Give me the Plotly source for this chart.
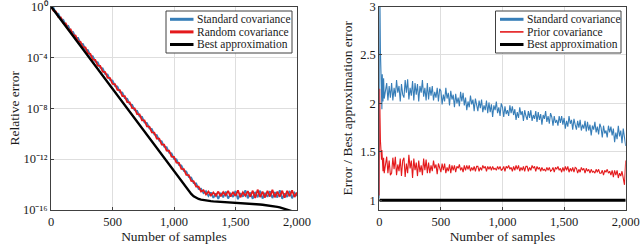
import plotly.graph_objects as go

# ---------------- data ----------------
# Left panel: samples and log10 of relative error
samples_left = list(range(0, 2001, 20))

std_cov_log10 = [
    0.00, -0.10, -0.53, -0.58, -1.00, -1.05, -1.48, -1.52, -1.96, -2.00,
    -2.44, -2.47, -2.91, -2.95, -3.39, -3.43, -3.87, -3.91, -4.34, -4.38,
    -4.82, -4.86, -5.30, -5.34, -5.78, -5.82, -6.25, -6.29, -6.73, -6.77,
    -7.21, -7.25, -7.69, -7.72, -8.16, -8.20, -8.64, -8.68, -9.12, -9.16,
    -9.59, -9.63, -10.07, -10.11, -10.55, -10.59, -11.03, -11.06, -11.50, -11.54,
    -11.98, -12.02, -12.46, -12.50, -12.93, -12.97, -13.41, -13.45, -13.89, -13.91,
    -14.35, -14.32, -14.68, -14.52, -14.90, -14.62,
    -15.05, -14.70, -15.12, -14.65, -15.00, -14.55, -15.10, -14.72, -14.98, -14.50,
    -15.15, -14.68, -14.95, -14.45, -15.08, -14.62, -15.12, -14.58, -15.00, -14.48,
    -15.10, -14.66, -14.96, -14.52, -15.06, -14.60, -15.02, -14.44, -15.12, -14.70,
    -14.98, -14.50, -15.08, -14.64, -14.90,
]

rand_cov_log10 = [
    0.00, -0.34, -0.40, -0.84, -0.86, -1.30, -1.33, -1.79, -1.80, -2.26,
    -2.28, -2.74, -2.77, -3.21, -3.22, -3.69, -3.72, -4.18, -4.19, -4.65,
    -4.66, -5.12, -5.15, -5.60, -5.62, -6.08, -6.10, -6.56, -6.57, -7.04,
    -7.05, -7.52, -7.53, -7.99, -8.00, -8.46, -8.48, -8.95, -8.96, -9.42,
    -9.44, -9.90, -9.91, -10.38, -10.39, -10.86, -10.86, -11.33, -11.34, -11.81,
    -11.82, -12.28, -12.30, -12.77, -12.78, -13.24, -13.25, -13.72, -13.74, -14.16,
    -14.17, -14.54, -14.44, -14.78, -14.55, -14.86,
    -14.62, -14.88, -14.55, -14.92, -14.60, -14.85, -14.50, -14.95, -14.58, -14.90,
    -14.45, -15.00, -14.60, -14.88, -14.52, -14.96, -14.48, -15.05, -14.40, -14.98,
    -14.55, -15.02, -14.50, -14.94, -14.42, -15.00, -14.55, -14.96, -14.48, -15.04,
    -14.50, -14.92, -14.45, -14.98, -14.62,
]

best_log10 = [
    0.00, -0.26, -0.52, -0.78, -1.04, -1.30, -1.56, -1.82, -2.08, -2.34,
    -2.60, -2.86, -3.12, -3.38, -3.64, -3.90, -4.16, -4.42, -4.68, -4.94,
    -5.20, -5.46, -5.72, -5.98, -6.24, -6.50, -6.76, -7.02, -7.28, -7.54,
    -7.80, -8.06, -8.32, -8.58, -8.84, -9.10, -9.36, -9.62, -9.88, -10.14,
    -10.40, -10.66, -10.92, -11.18, -11.44, -11.70, -11.96, -12.22, -12.48, -12.74,
    -13.00, -13.26, -13.52, -13.78, -14.04, -14.28, -14.52, -14.74, -14.92, -15.05,
    -15.13, -15.18, -15.22, -15.25, -15.28, -15.30, -15.32, -15.33, -15.34, -15.36,
    -15.37, -15.38, -15.39, -15.40, -15.42, -15.43, -15.44, -15.45, -15.46, -15.48,
    -15.49, -15.50, -15.52, -15.53, -15.55, -15.57, -15.59, -15.61, -15.63, -15.65,
    -15.68, -15.71, -15.75, -15.79, -15.84, -15.89, -15.95, -16.02, -16.10, -16.20,
    -16.30,
]

# Right panel: samples and error ratio
samples_right = [0, 3, 6, 9, 12, 15, 18, 21, 24, 27, 30, 35, 40] + list(range(60, 2001, 10))

std_ratio = [
    1.02, 3.30, 2.95, 2.55, 2.38, 2.30, 2.36, 1.94, 2.30, 2.22, 2.02, 2.26, 2.05,
    2.21, 2.03, 2.18, 2.06,
    2.21, 2.03, 2.16, 2.07, 2.24, 2.11, 2.18, 2.02, 2.20, 2.09,
    2.06, 2.24, 2.11, 2.25, 2.04, 2.16, 2.08, 2.23, 2.03, 2.21,
    2.09, 2.20, 2.02, 2.18, 2.11, 2.24, 2.07, 2.16, 2.03, 2.21,
    2.04, 2.17, 2.08, 2.18, 2.03, 2.12, 2.06, 2.16, 2.02, 2.15,
    2.13, 1.99, 2.09, 2.02, 2.16, 2.05, 2.11, 1.98, 2.13, 2.04,
    2.09, 1.96, 2.10, 2.00, 2.06, 1.97, 2.12, 2.02, 2.11, 1.98,
    2.06, 1.93, 2.02, 1.96, 2.08, 1.99, 2.04, 1.92, 2.05, 1.97,
    1.92, 2.03, 1.95, 2.04, 1.91, 1.98, 1.93, 2.03, 1.90, 2.01,
    1.91, 1.99, 1.86, 1.98, 1.93, 2.02, 1.90, 1.96, 1.87, 2.00,
    1.96, 1.86, 1.97, 1.89, 1.93, 1.87, 1.98, 1.90, 1.97, 1.88,
    1.94, 1.83, 1.91, 1.85, 1.96, 1.88, 1.92, 1.82, 1.93, 1.87,
    1.83, 1.92, 1.85, 1.93, 1.82, 1.88, 1.84, 1.92, 1.81, 1.91,
    1.83, 1.89, 1.78, 1.88, 1.84, 1.92, 1.81, 1.87, 1.79, 1.90,
    1.86, 1.77, 1.87, 1.80, 1.83, 1.77, 1.87, 1.80, 1.87, 1.78,
    1.85, 1.74, 1.82, 1.76, 1.87, 1.79, 1.83, 1.73, 1.84, 1.78,
    1.73, 1.82, 1.75, 1.83, 1.72, 1.78, 1.74, 1.82, 1.71, 1.81,
    1.72, 1.78, 1.67, 1.77, 1.73, 1.81, 1.70, 1.76, 1.68, 1.79,
    1.75, 1.65, 1.77, 1.69, 1.72, 1.65, 1.77, 1.70, 1.76, 1.67,
    1.74, 1.60, 1.70, 1.63, 1.77, 1.66, 1.72, 1.59, 1.74, 1.65,
    1.56,
]

prior_ratio = [
    1.05, 2.15, 1.85, 1.62, 1.50, 1.58, 1.42, 1.52, 1.36, 1.46, 1.30, 1.44, 1.28,
    1.45, 1.28, 1.41, 1.26,
    1.28, 1.44, 1.32, 1.45, 1.26, 1.37, 1.30, 1.43, 1.25, 1.41,
    1.44, 1.24, 1.38, 1.28, 1.47, 1.33, 1.41, 1.23, 1.43, 1.31,
    1.39, 1.25, 1.41, 1.29, 1.36, 1.26, 1.43, 1.31, 1.42, 1.28,
    1.39, 1.28, 1.36, 1.30, 1.41, 1.33, 1.37, 1.27, 1.38, 1.32,
    1.29, 1.38, 1.31, 1.38, 1.28, 1.34, 1.30, 1.37, 1.28, 1.36,
    1.31, 1.36, 1.29, 1.35, 1.33, 1.37, 1.31, 1.34, 1.29, 1.36,
    1.31, 1.36, 1.32, 1.36, 1.30, 1.34, 1.31, 1.35, 1.30, 1.35,
    1.35, 1.30, 1.34, 1.31, 1.36, 1.33, 1.35, 1.30, 1.35, 1.32,
    1.35, 1.31, 1.35, 1.32, 1.33, 1.31, 1.35, 1.32, 1.35, 1.31,
    1.32, 1.35, 1.30, 1.35, 1.33, 1.36, 1.32, 1.34, 1.30, 1.35,
    1.31, 1.36, 1.32, 1.36, 1.30, 1.34, 1.31, 1.35, 1.30, 1.35,
    1.35, 1.30, 1.34, 1.31, 1.36, 1.33, 1.35, 1.30, 1.35, 1.32,
    1.34, 1.30, 1.34, 1.31, 1.32, 1.30, 1.34, 1.31, 1.34, 1.30,
    1.31, 1.34, 1.29, 1.34, 1.32, 1.35, 1.31, 1.33, 1.29, 1.34,
    1.30, 1.35, 1.31, 1.35, 1.29, 1.33, 1.30, 1.34, 1.29, 1.34,
    1.33, 1.28, 1.32, 1.29, 1.34, 1.31, 1.33, 1.28, 1.33, 1.30,
    1.32, 1.28, 1.32, 1.29, 1.30, 1.28, 1.32, 1.29, 1.32, 1.28,
    1.28, 1.31, 1.26, 1.31, 1.29, 1.32, 1.28, 1.30, 1.26, 1.31,
    1.24, 1.31, 1.26, 1.31, 1.23, 1.28, 1.25, 1.30, 1.23, 1.16,
    1.41,
]

best_ratio_x = [0, 2000]
best_ratio = [1.0, 1.0]

x_ticks = [0, 500, 1000, 1500, 2000]
x_ticktext = ["0", "500", "1,000", "1,500", "2,000"]
y_left_ticks = [1e-16, 1e-12, 1e-8, 1e-4, 1]
y_left_ticktext = ["10\u207b\u00b9\u2076", "10\u207b\u00b9\u00b2", "10\u207b\u2078",
                   "10\u207b\u2074", "10\u2070"]
y_right_ticks = [1, 1.5, 2, 2.5, 3]
y_right_ticktext = ["1", "1.5", "2", "2.5", "3"]

left_names = ["Standard covariance", "Random covariance", "Best approximation"]
right_names = ["Standard covariance", "Prior covariance", "Best approximation"]

assert len(std_cov_log10) == len(samples_left)
assert len(rand_cov_log10) == len(samples_left)
assert len(best_log10) == len(samples_left)
assert len(std_ratio) == len(samples_right), len(std_ratio)
assert len(prior_ratio) == len(samples_right), len(prior_ratio)

# ---------------- style ----------------
BLUE = "#377eb8"
RED = "#e41a1c"
BLACK = "#000000"
FONT = "Liberation Serif, Times New Roman, serif"
AXC = "#404040"
GRID = "#dedede"
TXT = "#1a1a1a"

W, H = 640, 245
PLOT_TOP, PLOT_BOTTOM = 6.5, 210
def px_x(p):
    return p / W
def px_y(p):
    return 1 - p / H

fig = go.Figure()

# Left panel traces
fig.add_trace(go.Scatter(x=samples_left, y=[10 ** v for v in std_cov_log10], mode="lines",
                         name=left_names[0], line=dict(color=BLUE, width=1.8),
                         showlegend=False, xaxis="x", yaxis="y"))
fig.add_trace(go.Scatter(x=samples_left, y=[10 ** v for v in rand_cov_log10], mode="lines",
                         name=left_names[1], line=dict(color=RED, width=1.8),
                         showlegend=False, xaxis="x", yaxis="y"))
fig.add_trace(go.Scatter(x=samples_left, y=[10 ** v for v in best_log10], mode="lines",
                         name=left_names[2], line=dict(color=BLACK, width=2.4),
                         showlegend=False, xaxis="x", yaxis="y"))

# Right panel traces
fig.add_trace(go.Scatter(x=samples_right, y=std_ratio, mode="lines", name=right_names[0],
                         line=dict(color=BLUE, width=1.1), showlegend=False, xaxis="x2", yaxis="y2"))
fig.add_trace(go.Scatter(x=samples_right, y=prior_ratio, mode="lines", name=right_names[1],
                         line=dict(color=RED, width=1.1), showlegend=False, xaxis="x2", yaxis="y2"))
fig.add_trace(go.Scatter(x=best_ratio_x, y=best_ratio, mode="lines", name=right_names[2],
                         line=dict(color=BLACK, width=3), showlegend=False, xaxis="x2", yaxis="y2"))

# ---------------- compact legends (box, sample lines, labels) ----------------
shapes = []
annotations = []
def add_legend(box_l, box_r, line_l, line_r, text_x, names, colors, widths):
    shapes.append(dict(type="rect", xref="paper", yref="paper",
                       x0=px_x(box_l), x1=px_x(box_r), y0=px_y(53), y1=px_y(11),
                       fillcolor="white", line=dict(color=AXC, width=1), layer="above"))
    for i, (nm, col, w) in enumerate(zip(names, colors, widths)):
        yy = 19.3 + 12.6 * i
        shapes.append(dict(type="line", xref="paper", yref="paper",
                           x0=px_x(line_l), x1=px_x(line_r), y0=px_y(yy), y1=px_y(yy),
                           line=dict(color=col, width=w), layer="above"))
        annotations.append(dict(text=nm, xref="paper", yref="paper", x=px_x(text_x), y=px_y(yy),
                                xanchor="left", yanchor="middle", showarrow=False,
                                font=dict(family=FONT, size=11.5, color=TXT)))

add_legend(166, 292, 170, 193.5, 195, left_names, [BLUE, RED, BLACK], [3, 3, 3])
add_legend(495.5, 621, 500, 523.5, 525, right_names, [BLUE, RED, BLACK], [3, 1.6, 3])

common_axis = dict(showline=True, mirror=True, linecolor=AXC, linewidth=1,
                   ticks="inside", ticklen=3, tickcolor=AXC, showgrid=True, gridcolor=GRID,
                   gridwidth=1, zeroline=False, ticklabeloverflow="allow", automargin=False,
                   tickfont=dict(family=FONT, size=12.5, color=TXT))
title_font = dict(family=FONT, size=13.5, color=TXT)

fig.update_layout(
    width=W, height=H,
    margin=dict(l=0, r=0, t=0, b=0),
    paper_bgcolor="white", plot_bgcolor="white",
    font=dict(family=FONT, size=13, color=TXT),
    showlegend=False,
    xaxis=dict(domain=[px_x(51), px_x(297)], range=[0, 2000], tickvals=x_ticks, ticktext=x_ticktext,
               title=dict(text="Number of samples", font=title_font, standoff=1),
               anchor="y", **common_axis),
    yaxis=dict(domain=[px_y(PLOT_BOTTOM), px_y(PLOT_TOP)], type="log", range=[-16, 0],
               tickvals=y_left_ticks, ticktext=y_left_ticktext,
               title=dict(text="Relative error", font=title_font, standoff=0),
               anchor="x", **common_axis),
    xaxis2=dict(domain=[px_x(379.3), px_x(625.7)], range=[0, 2000], tickvals=x_ticks, ticktext=x_ticktext,
                title=dict(text="Number of samples", font=title_font, standoff=1),
                anchor="y2", **common_axis),
    yaxis2=dict(domain=[px_y(PLOT_BOTTOM), px_y(PLOT_TOP)], range=[0.9, 3.0],
                tickvals=y_right_ticks, ticktext=y_right_ticktext,
                title=dict(text="Error / Best approximation error", font=title_font, standoff=4),
                anchor="x2", **common_axis),
    shapes=shapes,
    annotations=annotations,
)

fig.write_html("out.html", config={"displayModeBar": False},
               post_script="document.body.style.margin='0';document.body.style.padding='0';")
